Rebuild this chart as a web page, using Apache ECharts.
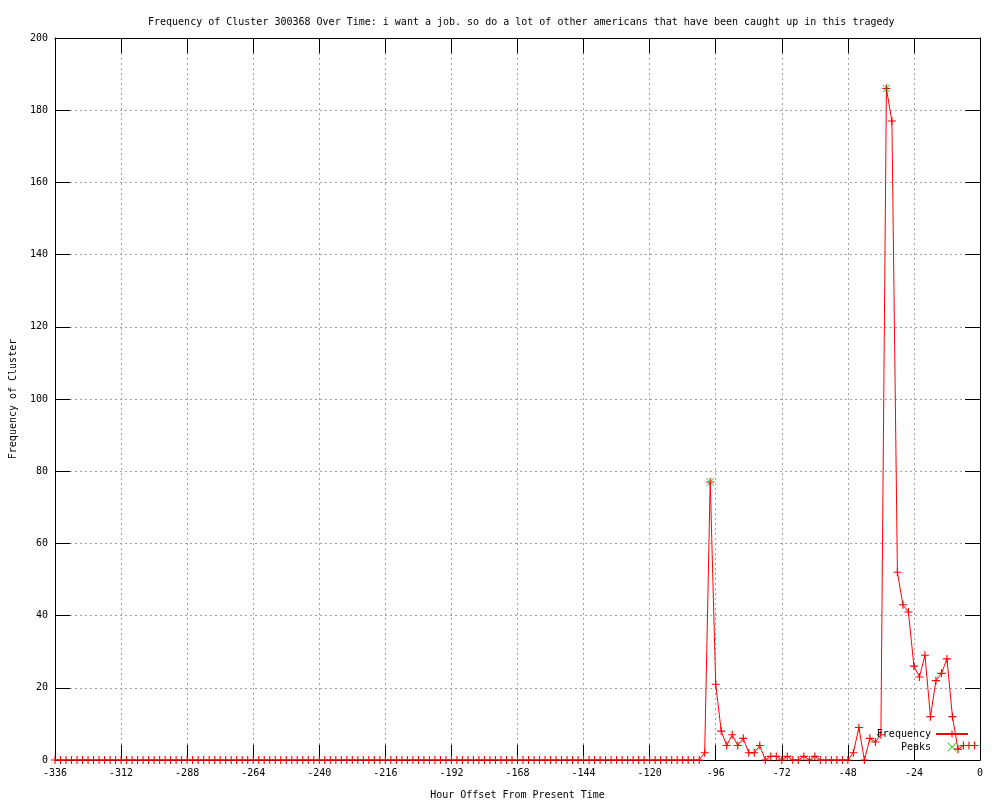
<!DOCTYPE html>
<html><head><meta charset="utf-8">
<script src="https://cdn.jsdelivr.net/npm/echarts@6/dist/echarts.min.js"></script>
<style>html,body{margin:0;padding:0;background:#fff}#c{width:1000px;height:800px}</style>
</head><body><div id="c"></div>
<script>
var hours = [-336,-334,-332,-330,-328,-326,-324,-322,-320,-318,-316,-314,-312,-310,-308,-306,-304,-302,-300,-298,-296,-294,-292,-290,-288,-286,-284,-282,-280,-278,-276,-274,-272,-270,-268,-266,-264,-262,-260,-258,-256,-254,-252,-250,-248,-246,-244,-242,-240,-238,-236,-234,-232,-230,-228,-226,-224,-222,-220,-218,-216,-214,-212,-210,-208,-206,-204,-202,-200,-198,-196,-194,-192,-190,-188,-186,-184,-182,-180,-178,-176,-174,-172,-170,-168,-166,-164,-162,-160,-158,-156,-154,-152,-150,-148,-146,-144,-142,-140,-138,-136,-134,-132,-130,-128,-126,-124,-122,-120,-118,-116,-114,-112,-110,-108,-106,-104,-102,-100,-98,-96,-94,-92,-90,-88,-86,-84,-82,-80,-78,-76,-74,-72,-70,-68,-66,-64,-62,-60,-58,-56,-54,-52,-50,-48,-46,-44,-42,-40,-38,-36,-34,-32,-30,-28,-26,-24,-22,-20,-18,-16,-14,-12,-10,-8,-6,-4,-2];
var frequency = [0,0,0,0,0,0,0,0,0,0,0,0,0,0,0,0,0,0,0,0,0,0,0,0,0,0,0,0,0,0,0,0,0,0,0,0,0,0,0,0,0,0,0,0,0,0,0,0,0,0,0,0,0,0,0,0,0,0,0,0,0,0,0,0,0,0,0,0,0,0,0,0,0,0,0,0,0,0,0,0,0,0,0,0,0,0,0,0,0,0,0,0,0,0,0,0,0,0,0,0,0,0,0,0,0,0,0,0,0,0,0,0,0,0,0,0,0,
  0,2,77,21,8,4,7,4,6,2,2,4,0,1,1,0,1,0,0,1,0,1,0,0,0,0,0,0,2,9,0,6,5,7,186,177,52,43,41,26,23,29,12,22,24,28,12,3,4,4,4];
var peakHours = [-98, -34];
var peakValues = [77, 186];
var xTicks = {min: -336, max: 0, interval: 24};
var yTicks = {min: 0, max: 200, interval: 20};

var freqData = hours.map(function (h, i) { return [h, frequency[i]]; });
var peakData = peakHours.map(function (h, i) { return [h, peakValues[i]]; });

var FONT = 'DejaVu Sans Mono';
var plus = 'path://M-1,-0.14L1,-0.14L1,0.14L-1,0.14Z M-0.14,-1L0.14,-1L0.14,1L-0.14,1Z';
var cross = 'path://M-1,-0.86L-0.86,-1L0,-0.14L0.86,-1L1,-0.86L0.14,0L1,0.86L0.86,1L0,0.14L-0.86,1L-1,0.86L-0.14,0Z';

var chart = echarts.init(document.getElementById('c'), null, {renderer: 'canvas'});
var mainTick = {show: true, inside: true, length: 15, lineStyle: {color: '#000', width: 1}};
var split = {show: true, lineStyle: {color: '#a0a0a0', width: 1, type: [2, 3]}};
chart.setOption({
  animation: false,
  backgroundColor: '#fff',
  title: {
    text: 'Frequency of Cluster 300368 Over Time: i want a job. so do a lot of other americans that have been caught up in this tragedy',
    left: 143, top: 12,
    textStyle: {fontFamily: FONT, fontSize: 10, fontWeight: 'normal', color: '#000'}
  },
  grid: {left: 55, right: 20, top: 38, bottom: 40, containLabel: false, outerBoundsMode: 'none'},
  legend: {
    orient: 'vertical', right: 26, top: 724, align: 'right',
    itemWidth: 32, itemHeight: 9, itemGap: 3,
    textStyle: {fontFamily: FONT, fontSize: 10, color: '#000'},
    data: ['Frequency', 'Peaks']
  },
  xAxis: [{
    type: 'value', min: xTicks.min, max: xTicks.max, interval: xTicks.interval,
    name: 'Hour Offset From Present Time', nameLocation: 'middle', nameGap: 30,
    nameTextStyle: {fontFamily: FONT, fontSize: 10, color: '#000'},
    axisLine: {show: true, onZero: false, lineStyle: {color: '#000', width: 1}},
    axisTick: mainTick,
    axisLabel: {fontFamily: FONT, fontSize: 10, color: '#000', margin: 8},
    splitLine: split
  }, {
    type: 'value', position: 'top', min: xTicks.min, max: xTicks.max, interval: xTicks.interval,
    axisLine: {show: true, onZero: false, lineStyle: {color: '#000', width: 1}},
    axisTick: mainTick, axisLabel: {show: false}, splitLine: {show: false}
  }],
  yAxis: [{
    type: 'value', min: yTicks.min, max: yTicks.max, interval: yTicks.interval,
    name: 'Frequency of Cluster', nameLocation: 'middle', nameGap: 37, nameRotate: 90,
    nameTextStyle: {fontFamily: FONT, fontSize: 10, color: '#000'},
    axisLine: {show: true, onZero: false, lineStyle: {color: '#000', width: 1}},
    axisTick: mainTick,
    axisLabel: {fontFamily: FONT, fontSize: 10, color: '#000', margin: 7},
    splitLine: split
  }, {
    type: 'value', position: 'right', min: yTicks.min, max: yTicks.max, interval: yTicks.interval,
    axisLine: {show: true, onZero: false, lineStyle: {color: '#000', width: 1}},
    axisTick: mainTick, axisLabel: {show: false}, splitLine: {show: false}
  }],
  series: [{
    name: 'Frequency', type: 'line', data: freqData,
    xAxisIndex: 0, yAxisIndex: 0,
    symbol: plus, symbolSize: 8, showAllSymbol: true,
    lineStyle: {color: '#ff0000', width: 1},
    itemStyle: {color: '#ff0000'},
    emphasis: {disabled: true}, z: 3
  }, {
    name: 'Peaks', type: 'scatter', data: peakData,
    xAxisIndex: 0, yAxisIndex: 0,
    symbol: cross, symbolSize: 8,
    itemStyle: {color: '#00c000'},
    emphasis: {disabled: true}, z: 4
  }]
});
</script></body></html>
